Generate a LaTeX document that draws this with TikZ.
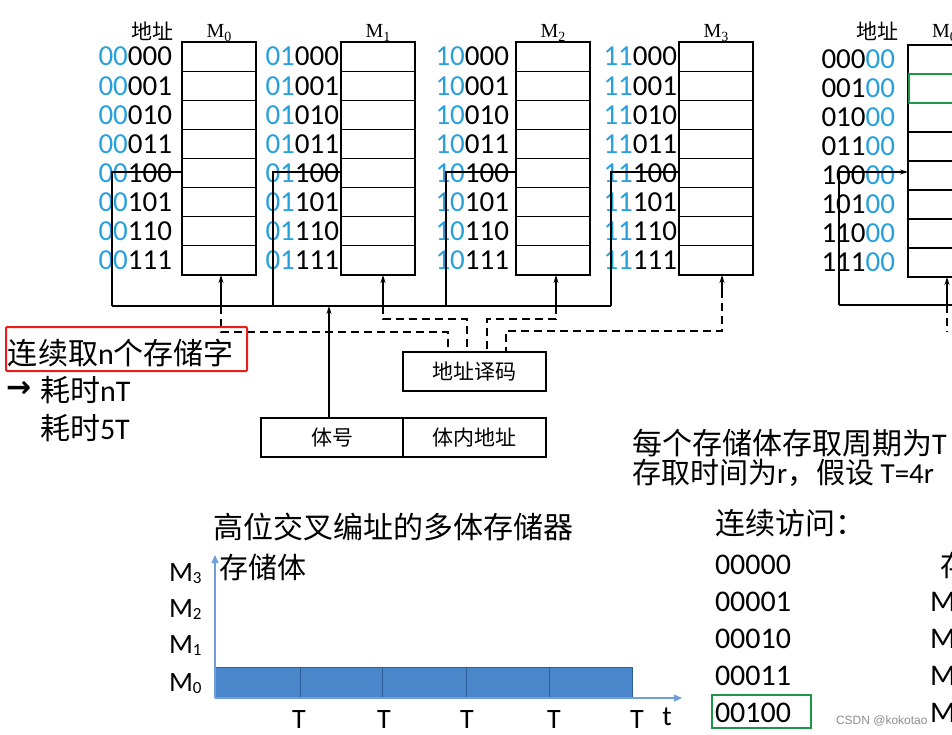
\documentclass[tikz,border=0pt]{standalone}
\usepackage{fontspec}
\setmainfont{Carlito}
\newfontfamily\cjk{Noto Sans CJK SC}
\newfontfamily\tnr{Liberation Serif}
\newfontfamily\djv{DejaVu Sans}
\newfontfamily\lsans{Liberation Sans}
\usetikzlibrary{arrows.meta,calc}
\definecolor{addrblue}{RGB}{40,160,220}
\definecolor{axisblue}{RGB}{110,160,215}
\definecolor{barblue}{RGB}{74,134,202}
\definecolor{bardiv}{RGB}{45,95,150}
\definecolor{hlgreen}{RGB}{30,150,70}
\definecolor{redbox}{RGB}{230,30,30}
\newcommand{\fs}[1]{\fontsize{#1}{#1}\selectfont}
\newcommand{\zh}[1]{{\cjk #1}}
\newcommand{\ML}[1]{{\tnr\fs{20}M\raisebox{-4pt}{\fs{14}#1}}}
\newcommand{\MS}[1]{M\raisebox{-2pt}{\fs{17}#1}}
\begin{document}
\begin{tikzpicture}[x=1pt,y=-1pt,
  every node/.style={inner sep=0pt, outer sep=0pt},
  addr/.style={anchor=east, font={\fs{29}}},
  bankbox/.style={draw, line width=1.3pt, minimum width=74pt, minimum height=233pt, anchor=north west},
  wire/.style={line width=1.2pt},
  dwire/.style={line width=1.2pt, dash pattern=on 8pt off 5pt},
  tip/.style={-{Stealth[length=8pt,width=5pt]}},
  cbox/.style={draw, line width=1.3pt, minimum height=39pt, font={\cjk\fs{21}}},
  axis/.style={draw=axisblue, line width=1.3pt, -{Triangle[length=8pt,width=7pt]}},
  big/.style={anchor=west, font={\fs{30}}},
]
\useasboundingbox (0,0) rectangle (952,734);
\clip (0,0) rectangle (952,734);

% ---------- four banks ----------
\node[anchor=center, font={\cjk\fs{21}}] (addrhead) at (152,31) {地址};
\foreach \k/\bx/\tx/\p/\vx in {0/182/172/00/112, 1/341/339/01/273, 2/516/509/10/446, 3/679/677/11/611}{
  \node[bankbox] (B\k) at (\bx,42) {};
  \foreach \r in {1,...,7} \draw[line width=1.2pt] ({\bx},{42+\r*29.125}) -- ++(74,0);
  \node[anchor=base] (L\k) at ({\bx+37},37) {\ML{\k}};
  \foreach \s [count=\r from 0] in {000,001,010,011,100,101,110,111}
    \node[addr] (A\k\r) at (\tx,{56.6+\r*29.125}) {\textcolor{addrblue}{\p}\s};
  \draw[wire] (\vx,306) -- (\vx,172) -- (\bx,172);
}
\coordinate (busL) at (112,306);
\coordinate (busR) at (611,306);
\draw[wire] (busL) -- (busR);

% inputs to banks
\coordinate (in0) at ([xshift=2pt]B0.south);
\coordinate (in1) at ([xshift=5pt]B1.south);
\coordinate (in2) at ([xshift=3pt]B2.south);
\coordinate (in3) at ([xshift=6pt]B3.south);
\foreach \i in {0,1,2} \draw[wire,tip] (in\i |- busL) -- (in\i);
\coordinate (m3a) at ([yshift=-15pt]in3);
\draw[wire,tip] (m3a) -- (in3);

% decoder and address register
\node[cbox, minimum width=143pt] (dec) at (474.5,371.5) {地址译码};
\node[cbox, minimum width=142pt] (bh) at (332,437.5) {体号};
\node[cbox, minimum width=143pt] (bn) at (474.5,437.5) {体内地址};
\coordinate (t1) at ([xshift=-26.5pt]dec.north);
\coordinate (t2) at ([xshift=-7.5pt]dec.north);
\coordinate (t3) at ([xshift=12.5pt]dec.north);
\coordinate (t4) at ([xshift=31.5pt]dec.north);
\draw[dwire] (in0 |- busL) -- ++(0,26) -| (t1);
\draw[dwire] (in1 |- busL) -- ++(0,13) -| (t2);
\draw[dwire] (in2 |- busL) -- ++(0,13) -| (t3);
\draw[dwire] (m3a) -- ++(0,41) -| (t4);
\draw[wire,tip] ([xshift=-3pt]bh.north) -- ([xshift=-3pt]bh.north |- busL);

% ---------- right partial bank ----------
\node[anchor=center, font={\cjk\fs{21}}] (addrhead2) at (877,31) {地址};
\node[anchor=base west] (LR) at (932,37) {\ML{0}};
\node[bankbox, minimum width=100pt, minimum height=232pt] (R) at (908,45) {};
\foreach \r in {1,...,7} \draw[line width=1.2pt] (908,{45+\r*29}) -- ++(100,0);
\draw[draw=hlgreen, line width=2.5pt] (909,74) rectangle (1000,103);
\foreach \s [count=\r from 0] in {000,001,010,011,100,101,110,111}
  \node[addr] (RA\r) at (895,{59.5+\r*29}) {\s\textcolor{addrblue}{00}};
\coordinate (rv) at (839,305);
\draw[wire,tip] (rv) |- (R.west |- 0,172);
\draw[wire] (rv) -- (960,305);
\coordinate (rin) at (R.south -| 947,0);
\draw[wire,tip] (rin |- rv) -- (rin);
\draw[dwire] (rin |- rv) -- ++(0,27);

% ---------- left notes ----------
\draw[draw=redbox, line width=2pt, rounded corners=1pt] (6,327) rectangle (247,371);
\node[big] (note1) at (8,353) {\zh{连续取}n\zh{个存储字}};
\node[anchor=west, font={\djv\bfseries\fs{30}}] (arr) at (6,389) {→};
\node[big] (note2) at (40,390) {\zh{耗时}nT};
\node[big] (note3) at (40,428) {\zh{耗时}5T};

% ---------- bottom chart ----------
\node[anchor=west, font={\cjk\fs{30}}] (title) at (213,527) {高位交叉编址的多体存储器};
\node[anchor=west, font={\cjk\fs{29}}] (ylab) at (219,567) {存储体};
\foreach \a/\b in {215/300, 300/382, 382/466, 466/549, 549/632}
  \filldraw[fill=barblue, draw=bardiv, line width=0.6pt] (\a,667) rectangle (\b,698);
\coordinate (O) at (215,698);
\draw[axis] (O) -- (215,555);
\draw[axis] (O) -- (682,698);
\foreach \n/\y in {3/581, 2/617, 1/653, 0/691}
  \node[anchor=base west, font={\fs{28}}] (Y\n) at (169,\y) {\MS{\n}};
\foreach \x [count=\i] in {299,384,467,554,637}
  \node[anchor=base, font={\fs{28}}] (T\i) at (\x,728) {T};
\node[anchor=base, font={\fs{28}}] (tl) at (667,725) {t};

% ---------- bottom right ----------
\node[anchor=west, font={\fs{30}}] (c1) at (632,443) {\zh{每个存储体存取周期为}T};
\node[anchor=west, font={\fs{29}}] (c2) at (632,473) {\zh{存取时间为}r\zh{，假设} T=4r};
\node[anchor=west, font={\cjk\fs{30}}] (seq) at (715,523) {连续访问：};
\foreach \s/\y [count=\i] in {00000/565, 00001/602, 00010/639, 00011/676, 00100/713}
  \node[big] (S\i) at (715,\y) {\s};
\draw[draw=hlgreen, line width=2.5pt] (712,695) rectangle (811,728);
\node[anchor=west, font={\cjk\fs{29}}] (cun) at (940,565) {存};
\foreach \y [count=\i] in {602,639,676,713}
  \node[big] (RM\i) at (930,\y) {M};
\node[anchor=west, font={\lsans\fs{12}}, text=black!45] (wm) at (836,721) {CSDN @kokotao};
\end{tikzpicture}
\end{document}
